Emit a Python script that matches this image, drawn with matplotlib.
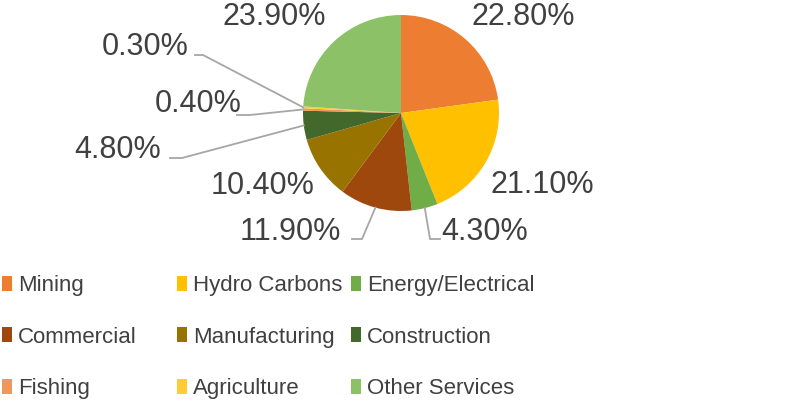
import matplotlib
matplotlib.use('Agg')
import matplotlib.pyplot as plt
from matplotlib.patches import Patch
import numpy as np

plt.rcParams['font.family'] = ['Liberation Sans', 'DejaVu Sans']

sectors = ['Mining', 'Hydro Carbons', 'Energy/Electrical', 'Commercial',
           'Manufacturing', 'Construction', 'Fishing', 'Agriculture',
           'Other Services']
shares = [22.8, 21.1, 4.3, 11.9, 10.4, 4.8, 0.4, 0.3, 23.9]
colors = ['#ED7D31', '#FFC000', '#70AD47', '#9E480E', '#997300',
          '#43682B', '#F1975A', '#FFCD33', '#8CC168']

W, H = 812, 401
CX, CY, R = 401, 113, 98   # pie centre / radius in pixels (y from top)

# label layout in pixels from top-left: text centre, and leader path (elbow, end) or None
label_pos = [(523, 17), (542, 185), (485, 232), (290, 232), (263, 186),
             (118, 150), (198, 104), (145, 47), (274, 17)]
leaders = [None, None, [(430, 239), (440, 239)], [(362, 239), (352, 239)],
           None, [(182, 158), (170, 158)], [(250, 115), (237, 115)],
           [(203, 55), (195, 55)], None]

TXT = '#404040'


def px(x, y):
    return x, H - y


fig = plt.figure(figsize=(W / 100, H / 100), dpi=100)
ax = fig.add_axes([0, 0, 1, 1])
wedges, _ = ax.pie(shares, colors=colors, startangle=90, counterclock=False,
                   center=px(CX, CY), radius=R, wedgeprops=dict(linewidth=0))
ax.set_xlim(0, W)
ax.set_ylim(0, H)
ax.set_aspect('equal')
ax.axis('off')

for w, val, pos, path in zip(wedges, shares, label_pos, leaders):
    ax.text(*px(*pos), '%.2f%%' % val, fontsize=22, color=TXT,
            ha='center', va='center')
    if path:
        mid = np.radians((w.theta1 + w.theta2) / 2)
        x0 = w.center[0] + R * np.cos(mid)
        y0 = w.center[1] + R * np.sin(mid)
        xs = [x0] + [px(*p)[0] for p in path]
        ys = [y0] + [px(*p)[1] for p in path]
        ax.plot(xs, ys, color='#A6A6A6', lw=1.3)

handles = [Patch(facecolor=c, edgecolor='none') for c in colors]
col_x = [2, 177, 351]
for i, x in enumerate(col_x):
    idx = [i, i + 3, i + 6]
    fig.legend([handles[j] for j in idx], [sectors[j] for j in idx],
               loc='upper left', bbox_to_anchor=(x / W, 1 - 275 / H),
               frameon=False, fontsize=16, labelcolor=TXT,
               handlelength=0.45, handleheight=0.65, handletextpad=0.28,
               labelspacing=1.38, borderpad=0, borderaxespad=0)

fig.savefig('out.png', dpi=100)
